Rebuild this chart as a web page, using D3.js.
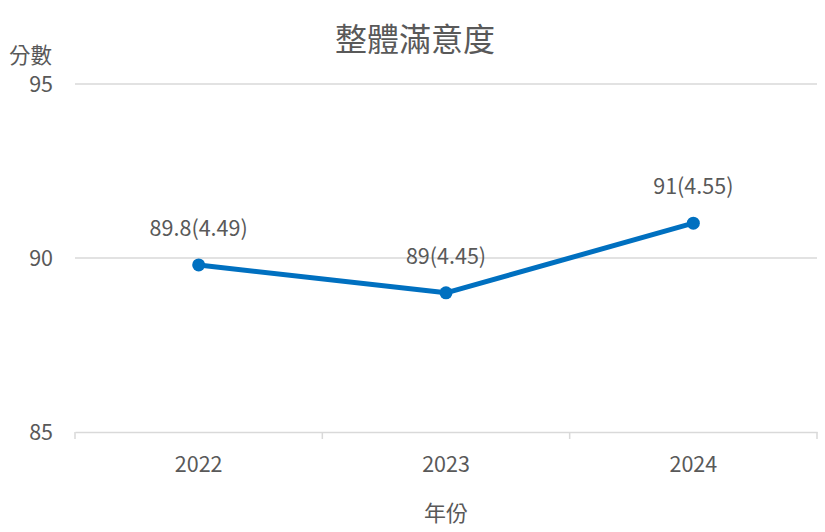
<!DOCTYPE html>
<html><head><meta charset="utf-8">
<script src="https://cdn.jsdelivr.net/npm/d3@7"></script>
<style>body{margin:0;background:#fff}svg{display:block}</style>
</head><body><svg id="c" width="825" height="532"></svg>
<script>
const categories = ["2022", "2023", "2024"];
const values = [89.8, 89, 91];
const labels = ["89.8(4.49)", "89(4.45)", "91(4.55)"];
const yTicks = [85, 90, 95];

const svg = d3.select("#c");
const font = "'Noto Sans CJK TC','Noto Sans',sans-serif";
const txt = "#595959";
const m = {left: 75, right: 817, top: 84, bottom: 432};
const numSize = 21.5;

const x = d3.scaleBand().domain(categories).range([m.left, m.right]);
const y = d3.scaleLinear().domain([85, 95]).range([m.bottom, m.top]);

// gridlines
svg.append("g").selectAll("line").data(yTicks.filter(d => d !== 85)).join("line")
  .attr("x1", m.left).attr("x2", m.right)
  .attr("y1", d => y(d)).attr("y2", d => y(d))
  .attr("stroke", "#d9d9d9").attr("stroke-width", 1.5);

// y labels
svg.append("g").selectAll("text").data(yTicks).join("text")
  .attr("x", 53).attr("y", d => y(d)).attr("dy", "0.35em")
  .attr("text-anchor", "end").attr("font-family", font).attr("font-size", numSize)
  .attr("fill", txt).text(d => d);

// x axis
const xAxis = d3.axisBottom(x).tickSize(0).tickFormat(d => d);
const gx = svg.append("g").attr("transform", `translate(0,${m.bottom})`).call(xAxis);
gx.select(".domain").attr("stroke", "#d9d9d9").attr("stroke-width", 1.5);
gx.selectAll("text").attr("font-family", font).attr("font-size", numSize).attr("fill", txt).attr("dy", "1.7em");
const edges = categories.map(c => x(c)).concat([x(categories[categories.length-1]) + x.bandwidth()]);
svg.append("g").selectAll("line").data(edges).join("line")
  .attr("x1", d => d).attr("x2", d => d)
  .attr("y1", m.bottom).attr("y2", m.bottom + 7)
  .attr("stroke", "#d9d9d9").attr("stroke-width", 1.5);

// line
const cx = c => x(c) + x.bandwidth() / 2;
const line = d3.line().x((d, i) => cx(categories[i])).y(d => y(d));
svg.append("path").datum(values).attr("d", line)
  .attr("fill", "none").attr("stroke", "#0070C0").attr("stroke-width", 5)
  .attr("stroke-linejoin", "round");
svg.append("g").selectAll("circle").data(values).join("circle")
  .attr("cx", (d, i) => cx(categories[i])).attr("cy", d => y(d)).attr("r", 6.5)
  .attr("fill", "#0070C0");

// data labels
svg.append("g").selectAll("text").data(values).join("text")
  .attr("x", (d, i) => cx(categories[i])).attr("y", d => y(d) - 29)
  .attr("text-anchor", "middle").attr("font-family", font).attr("font-size", numSize)
  .attr("fill", txt).text((d, i) => labels[i]);

// titles
svg.append("text").attr("x", 415).attr("y", 51).attr("text-anchor", "middle")
  .attr("font-family", font).attr("font-size", 32).attr("fill", txt).text("整體滿意度");
svg.append("text").attr("x", 9).attr("y", 63)
  .attr("font-family", font).attr("font-size", 21.5).attr("fill", txt).text("分數");
svg.append("text").attr("x", 446).attr("y", 521).attr("text-anchor", "middle")
  .attr("font-family", font).attr("font-size", 22).attr("fill", txt).text("年份");
</script></body></html>
